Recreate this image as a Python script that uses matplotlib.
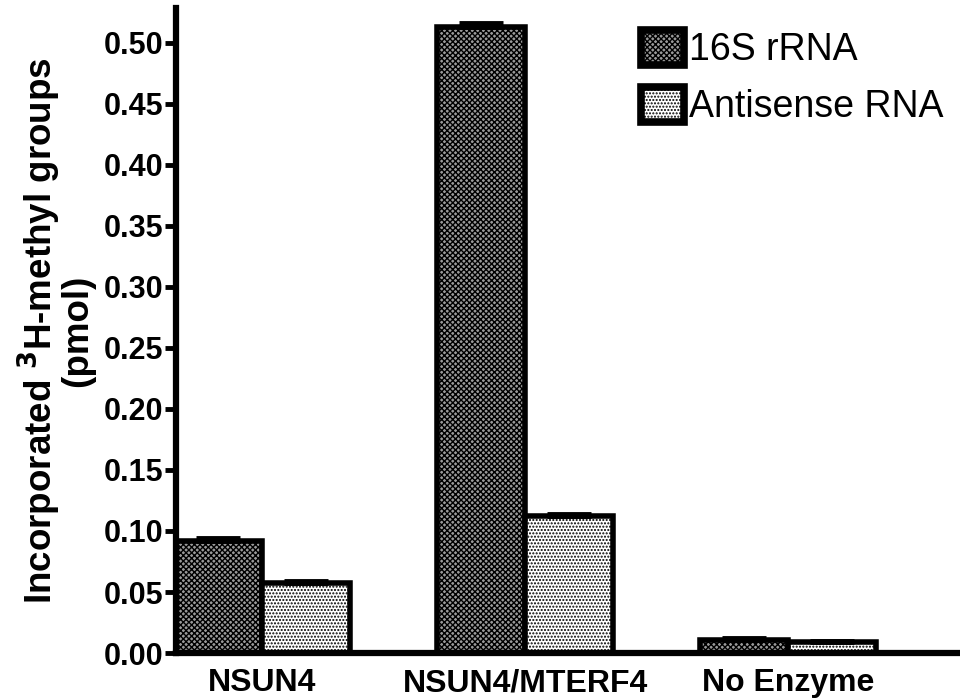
import numpy as np
import matplotlib
matplotlib.use("Agg")
import matplotlib.pyplot as plt

plt.rcParams['font.family'] = ['Liberation Sans', 'DejaVu Sans']
plt.rcParams['hatch.linewidth'] = 1.0

groups = ["NSUN4", "NSUN4/MTERF4", "No Enzyme"]
series = ["16S rRNA", "Antisense RNA"]
rrna = [0.092, 0.513, 0.011]
rrna_err = [0.002, 0.003, 0.001]
antisense = [0.057, 0.112, 0.009]
antisense_err = [0.002, 0.002, 0.001]
yticks = [0.00, 0.05, 0.10, 0.15, 0.20, 0.25, 0.30, 0.35, 0.40, 0.45, 0.50]

fig = plt.figure(figsize=(9.6, 7), dpi=100)
ax = fig.add_axes([0.183, 0.067, 0.817, 0.922])

x = np.arange(len(groups))
w = 0.335
lw = 4

b1 = ax.bar(x - w/2, rrna, w, facecolor='#9a9a9a', edgecolor='black',
            linewidth=lw, hatch='xxxxxx', label=series[0], zorder=2)
b2 = ax.bar(x + w/2, antisense, w, facecolor='white', edgecolor='black',
            linewidth=lw, hatch='.....', label=series[1], zorder=2)

# only the upper half of the error bars shows
ax.errorbar(x - w/2, rrna, yerr=[np.zeros(3), rrna_err], fmt='none',
            ecolor='black', elinewidth=3, capsize=16, capthick=3.5, zorder=3)
ax.errorbar(x + w/2, antisense, yerr=[np.zeros(3), antisense_err], fmt='none',
            ecolor='black', elinewidth=3, capsize=16, capthick=3.5, zorder=3)

ax.set_xlim(-0.33, 2.655)
ax.set_ylim(0, 0.5285)
ax.set_yticks(yticks)
ax.set_yticklabels([f"{t:.2f}" for t in yticks], fontsize=22, fontweight='bold')
ax.set_xticks(x)
ax.set_xticklabels(groups, fontsize=23, fontweight='bold')
ax.tick_params(axis='y', length=8, width=3.5, pad=1)
ax.tick_params(axis='x', length=0, pad=11)

for s in ['top', 'right']:
    ax.spines[s].set_visible(False)
for s in ['left', 'bottom']:
    ax.spines[s].set_linewidth(4.5)

ax.set_ylabel("Incorporated $\\mathbf{^3}$H-methyl groups\n(pmol)",
              fontsize=26.5, fontweight='bold', labelpad=6, linespacing=0.9)

leg = ax.legend(loc='upper left', bbox_to_anchor=(0.668, 0.957),
                bbox_transform=fig.transFigure, frameon=False, fontsize=27,
                handlelength=1.15, handleheight=1.05, handletextpad=0.12,
                labelspacing=0.5, borderpad=0, borderaxespad=0)
for h in leg.legend_handles:
    h.set_linewidth(5.5)

fig.savefig("out.png", dpi=100)
